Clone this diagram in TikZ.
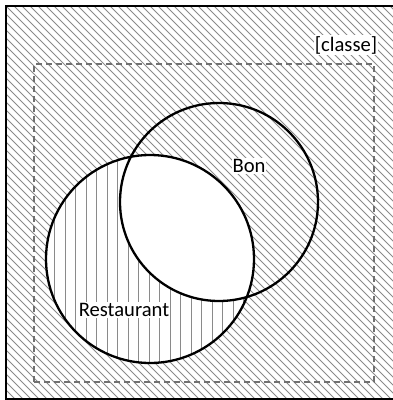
\documentclass[tikz,border=0pt]{standalone}
\usepackage{fontspec}
\setmainfont{Carlito}
\definecolor{hatchGray}{HTML}{8A8A8A}
\definecolor{dashGray}{HTML}{707070}

\begin{document}
\begin{tikzpicture}[
  x=1pt, y=-1pt, font=\fontsize{20.6}{24}\selectfont,
  hatch/.style ={draw=hatchGray, line width=0.9pt},
  venn/.style  ={circle, draw=black, line width=2.3pt, inner sep=0pt},
  lbl/.style   ={fill=white, inner sep=1pt, text=black}]
  \useasboundingbox (0,0) rectangle (393,400);
  % diagonal hatch outside Restaurant
  \begin{scope}[even odd rule]
    \clip (5,5) rectangle (394,398) (150,259) circle (104pt);
    \foreach \c in {-400,-392,...,400}
      \draw[hatch] (\c,0) -- (\c+400,400);
  \end{scope}
  % vertical hatch in Restaurant, not in Bon
  \begin{scope}[even odd rule]
    \clip (150,259) circle (104pt);
    \clip (0,0) rectangle (393,400) (219,202) circle (99pt);
    \foreach \c in {44,54.5,...,260}
      \draw[hatch] (\c,150) -- (\c,370);
  \end{scope}
  % frames
  \node[draw=black, line width=2pt, minimum width=389pt, minimum height=393pt, anchor=north west] (frame) at (5,5) {};
  \node[draw=dashGray, dashed, dash pattern=on 6pt off 4pt, line width=1.5pt, minimum width=340pt, minimum height=318pt, anchor=north west] (univ) at (33,63) {};
  % sets
  \node[venn, minimum size=208pt] (resto) at (150,259) {};
  \node[venn, minimum size=198pt] (bon) at (219,202) {};
  \node[lbl] (classe) at (346,45) {[classe]};
  \node[lbl] (bonlbl) at (249,166) {Bon};
  \node[lbl] (restolbl) at (124,310) {Restaurant};
\end{tikzpicture}
\end{document}
